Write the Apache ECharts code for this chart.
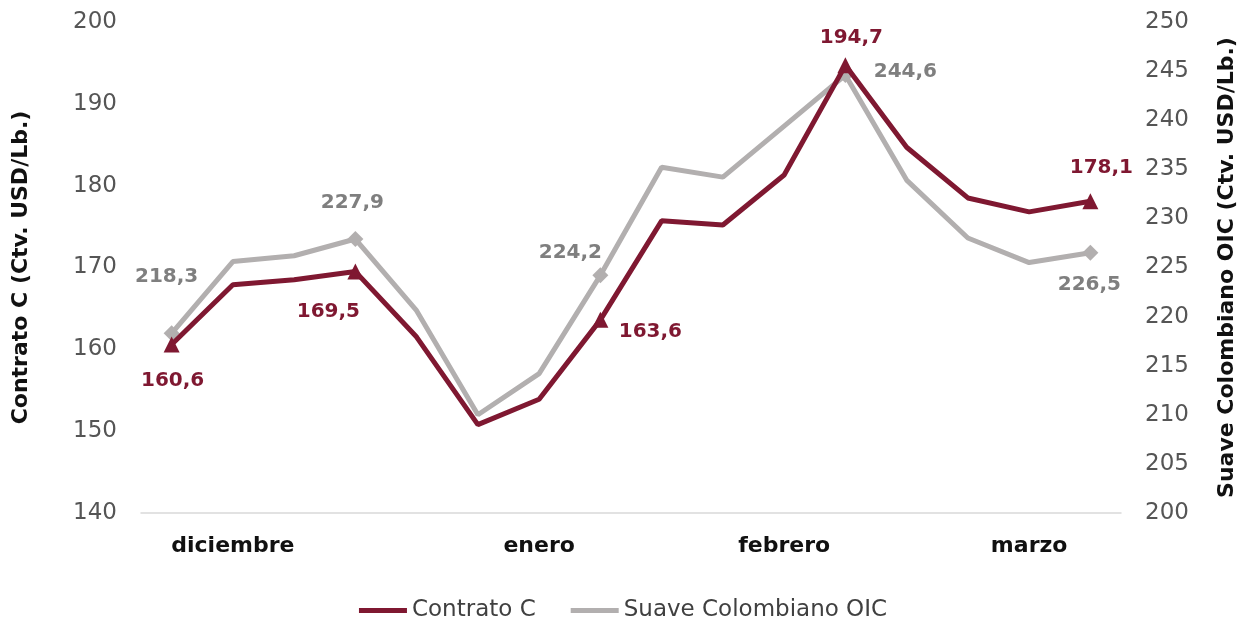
<!DOCTYPE html>
<html>
<head>
<meta charset="utf-8">
<script src="https://cdn.jsdelivr.net/npm/echarts@6/dist/echarts.min.js"></script>
<style>
  html, body { margin: 0; padding: 0; background: #fff; }
  #chart { width: 1246px; height: 622px; }
</style>
</head>
<body>
<div id="chart"></div>
<script>
// semanas (dic - mar)
const semanas = ["s1","s2","s3","s4","s5","s6","s7","s8","s9","s10","s11","s12","s13","s14","s15","s16"];
const etiquetasMes = ["","diciembre","","","","","enero","","","","febrero","","","","marzo",""];
const contratoC = [160.6, 167.9, 168.5, 169.5, 161.5, 150.8, 153.9, 163.6, 175.7, 175.2, 181.3, 194.7, 184.7, 178.5, 176.8, 178.1];
const suaveOIC = [218.3, 225.6, 226.2, 227.9, 220.6, 210.0, 214.2, 224.2, 235.2, 234.2, 239.4, 244.6, 233.9, 228.0, 225.5, 226.5];
const puntosMarcados = [0, 3, 7, 11, 15];

const MARRON = "#7f1831";
const GRIS = "#b2afaf";
const GRIS_TXT = "#7f7f7f";
const FUENTE = "'DejaVu Sans', sans-serif";

// desplazamiento de cada etiqueta respecto al punto
const offsetC = { 0: [1, 36], 3: [-27, 40], 7: [50, 12], 11: [6, -28], 15: [11, -33] };
const offsetS = { 0: [-5, -56], 3: [-3, -36], 7: [-30, -23], 11: [60, -3], 15: [-1, 32] };

const armar = (vals, offs, color) => vals.map((v, i) => {
  if (puntosMarcados.indexOf(i) < 0) {
    return { value: v, symbolSize: 0, label: { show: false } };
  }
  return {
    value: v,
    label: {
      show: true,
      position: "inside",
      offset: offs[i],
      color: color,
      fontWeight: "bold",
      fontSize: 20,
      fontFamily: FUENTE,
      formatter: (p) => p.value.toFixed(1).replace(".", ",")
    }
  };
});

let myChart = echarts.init(document.getElementById("chart"));
let option = {
  backgroundColor: "#fff",
  animation: false,
  grid: { left: 141, right: 122, top: 22, bottom: 109 },
  legend: {
    bottom: -5,
    left: "center",
    itemWidth: 48,
    itemHeight: 5,
    itemGap: 35,
    icon: "rect",
    textStyle: { fontSize: 23, color: "#404040", fontFamily: FUENTE },
    data: ["Contrato C", "Suave Colombiano OIC"]
  },
  xAxis: {
    type: "category",
    data: semanas,
    boundaryGap: true,
    axisLine: { show: true, lineStyle: { color: "#d9d9d9", width: 1.5 } },
    axisTick: { show: false },
    axisLabel: {
      interval: 0,
      margin: 22,
      color: "#111",
      fontWeight: "bold",
      fontSize: 22,
      fontFamily: FUENTE,
      formatter: (v, idx) => etiquetasMes[idx]
    }
  },
  yAxis: [
    {
      type: "value",
      min: 140, max: 200, interval: 10,
      name: "Contrato C (Ctv. USD/Lb.)",
      nameLocation: "middle",
      nameGap: 109,
      nameTextStyle: { fontSize: 22, fontWeight: "bold", color: "#111", fontFamily: FUENTE },
      axisLine: { show: false },
      axisTick: { show: false },
      splitLine: { show: false },
      axisLabel: { margin: 24, fontSize: 23, color: "#555", fontFamily: FUENTE }
    },
    {
      type: "value",
      min: 200, max: 250, interval: 5,
      name: "Suave Colombiano OIC (Ctv. USD/Lb.)",
      nameLocation: "middle",
      nameGap: 95,
      nameRotate: 90,
      nameTextStyle: { fontSize: 22, fontWeight: "bold", color: "#111", fontFamily: FUENTE },
      axisLine: { show: false },
      axisTick: { show: false },
      splitLine: { show: false },
      axisLabel: { margin: 24, fontSize: 23, color: "#555", fontFamily: FUENTE }
    }
  ],
  series: [
    {
      name: "Contrato C",
      type: "line",
      yAxisIndex: 0,
      data: armar(contratoC, offsetC, MARRON),
      symbol: "triangle",
      symbolSize: 16,
      showAllSymbol: true,
      color: MARRON,
      lineStyle: { color: MARRON, width: 5 },
      itemStyle: { color: MARRON },
      z: 3
    },
    {
      name: "Suave Colombiano OIC",
      type: "line",
      yAxisIndex: 1,
      data: armar(suaveOIC, offsetS, GRIS_TXT),
      symbol: "diamond",
      symbolSize: 16,
      showAllSymbol: true,
      color: GRIS,
      lineStyle: { color: GRIS, width: 5 },
      itemStyle: { color: GRIS },
      z: 2
    }
  ]
};
myChart.setOption(option);
</script>
</body>
</html>
